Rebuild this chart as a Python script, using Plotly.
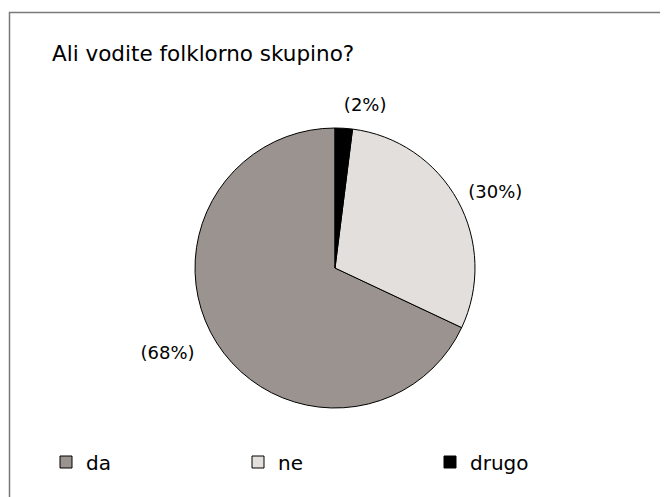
import plotly.graph_objects as go

labels = ["da", "ne", "drugo"]
values = [68, 30, 2]
colors = ["#9b938f", "#e3dfdc", "#000000"]
title_text = "Ali vodite folklorno skupino?"

W, H = 668, 497
OFF = 8  # page body margin
FONT = "DejaVu Sans"


def px_x(p):
    return (p - OFF) / W


def px_y(p):
    return 1 - (p - OFF) / H


CX, CY, R = 335, 268, 140
TCX = 329  # centre of the label-carrying pie
RT = 153  # radius used to place the outside labels
ROT = 115.2

fig = go.Figure()
# visible pie
fig.add_trace(go.Pie(
    labels=labels,
    values=values,
    sort=False,
    direction="counterclockwise",
    rotation=ROT,
    marker=dict(colors=colors, line=dict(color="#000000", width=1)),
    textinfo="none",
    hoverinfo="label+percent",
    domain=dict(x=[px_x(CX - R), px_x(CX + R)], y=[px_y(CY + R), px_y(CY - R)]),
    showlegend=True,
))
# transparent, slightly larger pie carrying the percentage labels
fig.add_trace(go.Pie(
    labels=labels,
    values=values,
    sort=False,
    direction="counterclockwise",
    rotation=ROT,
    marker=dict(colors=["rgba(0,0,0,0)"] * 3, line=dict(width=0)),
    texttemplate="(%{percent:.0%})",
    textposition="outside",
    textfont=dict(family=FONT, size=18, color="#000000"),
    hoverinfo="skip",
    domain=dict(x=[px_x(TCX - RT), px_x(TCX + RT)], y=[px_y(CY + RT), px_y(CY - RT)]),
    showlegend=False,
))

fig.update_layout(
    width=W, height=H,
    margin=dict(l=0, r=0, t=0, b=0),
    paper_bgcolor="white",
    plot_bgcolor="white",
    font=dict(family=FONT, color="#000000"),
    title=dict(text=title_text, x=px_x(52), xanchor="left", y=px_y(53), yanchor="middle",
               font=dict(family=FONT, size=21.5, color="#000000")),
    legend=dict(orientation="h", x=px_x(46), xanchor="left", y=px_y(462), yanchor="middle",
                font=dict(family=FONT, size=20, color="#000000"),
                entrywidth=147, entrywidthmode="pixels", itemclick=False,
                itemdoubleclick=False),
    shapes=[dict(type="rect", xref="paper", yref="paper",
                 x0=px_x(9.5), y0=-0.05, x1=1.05, y1=px_y(12.5),
                 line=dict(color="#7a7a7a", width=1.5), fillcolor="rgba(0,0,0,0)")],
)

fig.write_html("out.html")
